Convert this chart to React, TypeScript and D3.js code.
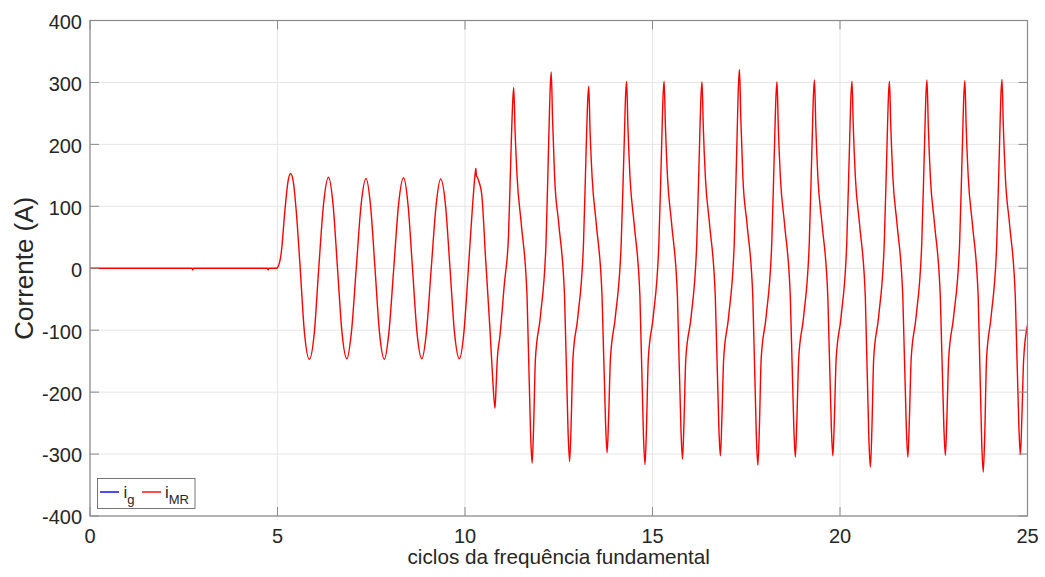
import React from 'react';
import * as d3 from 'd3';

// ---- data ----
const xTicks = [0, 5, 10, 15, 20, 25];
const yTicks = [-400, -300, -200, -100, 0, 100, 200, 300, 400];

// pre-fault (cycles, A)
const tPre = [0, 2.72, 2.74, 2.76, 4.73, 4.75, 4.77, 4.98];
const iPre = [0, 0, -3, 0, 0, -3, 0, 0];

// sinusoidal stage
const tSine = [5.0, 5.1, 5.2, 5.28, 5.35, 5.43, 5.5, 5.6, 5.72, 5.85, 5.98, 6.1, 6.23, 6.36, 6.48, 6.6, 6.72, 6.85, 6.97, 7.1, 7.23, 7.36, 7.48, 7.6, 7.72, 7.85, 7.97, 8.1, 8.23, 8.36, 8.48, 8.6, 8.72, 8.85, 8.97, 9.1, 9.23, 9.35, 9.48, 9.6, 9.72, 9.85, 9.97, 10.08, 10.2];
const iSine = [1, 25, 95, 140, 153, 136, 92, 5, -105, -147, -105, 0, 105, 147, 104, 0, -104, -146, -104, 0, 103, 145, 102, 0, -104, -147, -104, 0, 104, 146, 103, 0, -104, -146, -104, 0, 102, 144, 102, 0, -104, -146, -104, -10, 100];

// transition
const tTrans = [10.27, 10.29, 10.305, 10.33, 10.37, 10.445, 10.55, 10.667, 10.74, 10.8, 10.83, 10.86, 10.93, 11.05, 11.16];
const iTrans = [152, 161, 149, 147, 140, 120, 15, -100, -180, -226, -190, -148, -110, -25, 52];

// distorted stage
const tDist = [
  11.23, 11.275, 11.3, 11.335, 11.39, 11.5, 11.655, 11.75, 11.79, 11.83, 11.878, 12.01, 12.16,
  12.23, 12.275, 12.3, 12.335, 12.39, 12.5, 12.655, 12.75, 12.79, 12.83, 12.878, 13.01, 13.16,
  13.23, 13.275, 13.3, 13.335, 13.39, 13.5, 13.655, 13.75, 13.79, 13.83, 13.878, 14.01, 14.165,
  14.24, 14.285, 14.31, 14.345, 14.4, 14.51, 14.665, 14.76, 14.8, 14.84, 14.888, 15.02, 15.17,
  15.24, 15.285, 15.31, 15.345, 15.4, 15.51, 15.665, 15.76, 15.8, 15.84, 15.888, 16.03, 16.18,
  16.25, 16.295, 16.32, 16.355, 16.41, 16.52, 16.675, 16.77, 16.81, 16.85, 16.898, 17.03, 17.18,
  17.25, 17.295, 17.32, 17.355, 17.41, 17.52, 17.675, 17.77, 17.81, 17.85, 17.898, 18.03, 18.18,
  18.25, 18.295, 18.32, 18.355, 18.41, 18.52, 18.675, 18.77, 18.81, 18.85, 18.898, 19.03, 19.18,
  19.25, 19.295, 19.32, 19.355, 19.41, 19.52, 19.675, 19.77, 19.81, 19.85, 19.898, 20.03, 20.18,
  20.25, 20.295, 20.32, 20.355, 20.41, 20.52, 20.675, 20.77, 20.81, 20.85, 20.898, 21.03, 21.18,
  21.25, 21.295, 21.32, 21.355, 21.41, 21.52, 21.675, 21.77, 21.81, 21.85, 21.898, 22.03, 22.18,
  22.25, 22.295, 22.32, 22.355, 22.41, 22.52, 22.675, 22.77, 22.81, 22.85, 22.898, 23.03, 23.19,
  23.26, 23.305, 23.33, 23.365, 23.42, 23.53, 23.685, 23.78, 23.82, 23.86, 23.908, 24.03, 24.18,
  24.25, 24.295, 24.32, 24.355, 24.41, 24.52, 24.675, 24.77, 24.81, 24.85, 24.898, 25.0,
];
const iDist = [
  195, 272, 292, 222, 147, 72, -46, -270, -315, -255, -146, -78, 40,
  200, 295, 317, 240, 147, 72, -46, -267, -312, -252, -146, -78, 40,
  190, 274, 294, 222, 147, 72, -46, -253, -298, -240, -146, -78, 40,
  190, 282, 302, 228, 147, 72, -46, -272, -317, -257, -146, -78, 40,
  190, 282, 302, 228, 147, 72, -46, -263, -308, -248, -146, -78, 40,
  190, 281, 301, 227, 147, 72, -46, -258, -303, -243, -146, -78, 40,
  200, 300, 321, 242, 147, 72, -46, -273, -318, -258, -146, -78, 40,
  190, 281, 301, 227, 147, 72, -46, -260, -305, -245, -146, -78, 40,
  190, 284, 304, 229, 147, 72, -46, -258, -303, -243, -146, -78, 40,
  190, 282, 302, 228, 147, 72, -46, -276, -321, -261, -146, -78, 40,
  190, 282, 302, 228, 147, 72, -46, -260, -305, -245, -146, -78, 40,
  190, 284, 304, 229, 147, 72, -46, -257, -302, -242, -146, -78, 40,
  190, 283, 303, 228, 147, 72, -46, -284, -329, -269, -146, -78, 40,
  190, 285, 305, 230, 147, 72, -46, -256, -301, -241, -146, -92,
];

const seriesNames = ['g', 'MR'];
const seriesColors = ['#0000ff', '#ff0000'];

const FONT = '"Liberation Sans", Arial, Helvetica, sans-serif';

export default function App() {
  const x = d3.scaleLinear().domain([0, 25]).range([90, 1027.5]);
  const y = d3.scaleLinear().domain([-400, 400]).range([516, 20.5]);
  const [x0, x1] = x.range();
  const [y0, y1] = y.range();

  const t = [...tPre, ...tSine, ...tTrans, ...tDist];
  const v = [...iPre, ...iSine, ...iTrans, ...iDist];
  const pts: [number, number][] = t.map((tt, k) => [tt, v[k]]);

  const line = d3
    .line<[number, number]>()
    .x((d) => x(d[0]))
    .y((d) => y(d[1]))
    .curve(d3.curveMonotoneX);
  const path = line(pts) || '';

  const axisColor = '#8a8a8a';
  const gridColor = '#e6e6e6';
  const textColor = '#262626';
  const tickLen = 9;

  return (
    <svg
      width={1045}
      height={577}
      style={{ position: 'absolute', left: 0, top: 0, background: '#fff' }}
      fontFamily={FONT}
    >
      <defs>
        <clipPath id="plotclip">
          <rect x={x0} y={y1} width={x1 - x0} height={y0 - y1} />
        </clipPath>
      </defs>
      <rect x={0} y={0} width={1045} height={577} fill="#fff" />
      {/* grid */}
      {xTicks.map((tk) => (
        <line key={'gx' + tk} x1={x(tk)} x2={x(tk)} y1={y1} y2={y0} stroke={gridColor} strokeWidth={1} />
      ))}
      {yTicks.map((tk) => (
        <line key={'gy' + tk} x1={x0} x2={x1} y1={y(tk)} y2={y(tk)} stroke={gridColor} strokeWidth={1} />
      ))}
      {/* data: i_g lies exactly under i_MR, so only the top (red) trace is visible */}
      <g clipPath="url(#plotclip)">
        <path d={path} fill="none" stroke={seriesColors[1]} strokeWidth={1.4} strokeLinejoin="round" />
      </g>
      {/* box */}
      <rect x={x0} y={y1} width={x1 - x0} height={y0 - y1} fill="none" stroke={axisColor} strokeWidth={1.2} />
      {/* ticks */}
      {xTicks.map((tk) => (
        <g key={'tx' + tk}>
          <line x1={x(tk)} x2={x(tk)} y1={y0} y2={y0 - tickLen} stroke={axisColor} />
          <line x1={x(tk)} x2={x(tk)} y1={y1} y2={y1 + tickLen} stroke={axisColor} />
          <text x={x(tk)} y={543} textAnchor="middle" fontSize={20} fill={textColor}>
            {tk}
          </text>
        </g>
      ))}
      {yTicks.map((tk) => (
        <g key={'ty' + tk}>
          <line x1={x0} x2={x0 + tickLen} y1={y(tk)} y2={y(tk)} stroke={axisColor} />
          <line x1={x1} x2={x1 - tickLen} y1={y(tk)} y2={y(tk)} stroke={axisColor} />
          <text x={82} y={y(tk)} dy="0.42em" textAnchor="end" fontSize={20} fill={textColor}>
            {tk}
          </text>
        </g>
      ))}
      {/* axis titles */}
      <text x={(x0 + x1) / 2} y={564} textAnchor="middle" fontSize={20.7} fill={textColor}>
        ciclos da frequência fundamental
      </text>
      <text
        transform={`translate(33,${(y0 + y1) / 2}) rotate(-90)`}
        textAnchor="middle"
        fontSize={26}
        fill={textColor}
      >
        Corrente (A)
      </text>
      {/* legend */}
      <g>
        <rect x={97.5} y={478.5} width={97.5} height={30} fill="#fff" stroke="#555" strokeWidth={0.8} />
        <line x1={100} x2={119} y1={492} y2={492} stroke={seriesColors[0]} strokeWidth={1.4} />
        <text x={123.5} y={498} fontSize={17} fill={textColor}>
          i<tspan fontSize={13} dy={5.5}>{seriesNames[0]}</tspan>
        </text>
        <line x1={142} x2={161} y1={492} y2={492} stroke={seriesColors[1]} strokeWidth={1.4} />
        <text x={165} y={498} fontSize={17} fill={textColor}>
          i<tspan fontSize={13} dy={5.5}>{seriesNames[1]}</tspan>
        </text>
      </g>
    </svg>
  );
}
